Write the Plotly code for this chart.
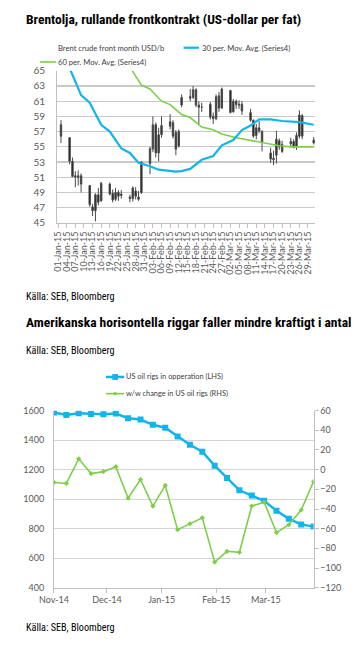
import plotly.graph_objects as go

W, H = 356, 646
def px(x): return x / W
def py(y): return 1 - y / H

# ---------------- Chart 1 data: Brent front month OHLC ----------------
brent_dates = ["2015-01-02","2015-01-05","2015-01-06","2015-01-07","2015-01-08","2015-01-09",
               "2015-01-12","2015-01-13","2015-01-14","2015-01-15","2015-01-16",
               "2015-01-19","2015-01-20","2015-01-21","2015-01-22","2015-01-23",
               "2015-01-26","2015-01-27","2015-01-28","2015-01-29","2015-01-30",
               "2015-02-02","2015-02-03","2015-02-04","2015-02-05","2015-02-06",
               "2015-02-09","2015-02-10","2015-02-11","2015-02-12","2015-02-13",
               "2015-02-16","2015-02-17","2015-02-18","2015-02-19","2015-02-20",
               "2015-02-23","2015-02-24","2015-02-25","2015-02-26","2015-02-27",
               "2015-03-02","2015-03-03","2015-03-04","2015-03-05","2015-03-06",
               "2015-03-09","2015-03-10","2015-03-11","2015-03-12","2015-03-13",
               "2015-03-16","2015-03-17","2015-03-18","2015-03-19","2015-03-20",
               "2015-03-23","2015-03-24","2015-03-25","2015-03-26","2015-03-27",
               "2015-03-31"]
brent_open  = [57.9,56.2,53.1,51.0,51.2,51.2, 49.9,47.1,46.6,48.7,47.9, 50.1,48.9,48.1,49.0,48.6,
               48.4,48.2,49.2,48.4,49.0, 52.8,54.7,57.9,54.2,56.6, 57.7,58.2,56.9,55.1,60.5,
               61.6,61.5,62.5,60.5,60.2, 60.6,59.0,58.7,61.7,60.1, 62.4,59.6,61.0,60.6,60.6,
               59.5,58.5,56.5,57.5,57.0, 54.2,53.3,53.9,55.8,54.4, 55.4,55.7,55.1,56.4,59.1, 55.9]
brent_high  = [58.5,56.3,53.6,51.8,51.9,51.5, 50.0,47.5,48.9,49.6,50.4, 50.3,49.4,49.6,49.3,49.3,
               48.7,49.8,49.7,49.2,53.1, 55.0,59.0,58.2,57.5,59.0, 59.3,58.5,57.2,57.3,61.9,
               62.6,63.0,62.7,61.0,60.8, 60.9,59.5,61.9,62.2,62.8, 62.5,61.3,61.2,61.1,61.0,
               60.0,58.6,58.0,58.4,57.2, 54.9,54.5,57.1,56.1,55.8, 56.2,56.0,56.9,59.8,59.3, 56.3]
brent_low   = [55.5,52.7,51.0,49.7,49.9,49.0, 47.1,45.9,45.2,47.3,47.8, 48.6,47.7,47.9,47.9,48.2,
               47.7,47.8,48.1,47.9,48.8, 51.4,54.3,53.6,53.1,56.2, 57.3,56.1,53.9,54.9,60.2,
               61.0,61.3,60.2,58.0,59.6, 58.6,58.0,58.5,59.6,60.0, 59.4,59.5,60.0,60.0,59.2,
               58.3,56.2,56.0,56.8,54.4, 52.9,52.6,52.8,54.6,54.2, 54.9,54.8,54.6,56.1,56.0, 55.3]
brent_close = [56.4,53.1,51.1,51.2,51.0,50.1, 47.4,46.6,48.7,47.7,50.2, 48.8,48.0,49.0,48.5,48.8,
               48.2,49.6,48.5,48.1,53.0, 54.75,57.9,54.2,56.6,57.8, 58.3,56.4,54.7,57.0,61.5,
               61.4,62.5,60.5,60.2,60.2, 58.9,58.7,61.6,60.1,62.6, 59.5,61.0,60.55,60.5,59.7,
               58.5,56.4,57.5,57.1,55.6, 53.4,53.5,56.0,55.0,55.3, 55.7,54.9,56.5,59.2,56.4, 55.5]

ma30_dates = ["2015-01-02","2015-01-05","2015-01-09","2015-01-12","2015-01-15","2015-01-16",
              "2015-01-19","2015-01-23","2015-01-26","2015-01-29","2015-02-02","2015-02-05",
              "2015-02-11","2015-02-13","2015-02-16","2015-02-20","2015-02-24","2015-02-27",
              "2015-03-03","2015-03-06","2015-03-09","2015-03-12","2015-03-16","2015-03-20",
              "2015-03-26","2015-03-31"]
ma30_vals  = [68.0,65.4,61.8,60.8,58.5,57.9, 57.0,54.8,54.2,52.9,52.45,52.0,
              51.75,51.8,52.1,53.3,53.8,55.2, 55.9,57.2,57.8,58.6,58.6,58.4, 58.25,57.9]

ma60_dates = ["2015-01-23","2015-01-26","2015-01-30","2015-02-02","2015-02-06","2015-02-09",
              "2015-02-11","2015-02-13","2015-02-16","2015-02-20","2015-02-24","2015-02-27",
              "2015-03-04","2015-03-09","2015-03-16","2015-03-19","2015-03-23","2015-03-31"]
ma60_vals  = [67.5,65.5,63.1,62.6,61.0,60.55, 59.9,59.25,58.85,57.6,57.25,56.7,
              56.2,55.85,55.45,55.15,55.0,55.0]

x1_ticks = ["2015-01-%02d" % d for d in range(1, 32, 3)] + \
           ["2015-02-%02d" % d for d in range(3, 29, 3)] + \
           ["2015-03-%02d" % d for d in range(2, 30, 3)]
y1_ticks = [45, 47, 49, 51, 53, 55, 57, 59, 61, 63, 65]

# ---------------- Chart 2 data: US oil rigs ----------------
rig_dates = ["2014-11-01","2014-11-08","2014-11-15","2014-11-22","2014-11-29","2014-12-06",
             "2014-12-13","2014-12-20","2014-12-27","2015-01-03","2015-01-10","2015-01-17",
             "2015-01-24","2015-01-31","2015-02-07","2015-02-14","2015-02-21","2015-02-28",
             "2015-03-07","2015-03-14","2015-03-21","2015-03-28"]
rigs = [1587,1571,1582,1578,1575,1580,1549,1540,1504,1484,1424,1369,
        1322,1227,1144,1060,1024,989,922,867,829,814]
ww_change = [-13,-14,11,-4,-2,3,-29,-10,-37,-16,-61,-55,
             -49,-94,-83,-84,-37,-33,-64,-56,-41,-12]

BLUE = "#12B5EA"
GREEN = "#7DCF48"
GRID = "#C9C9C9"
AXIS = "#BFBFBF"
TICKC = "#595959"
TXT = "#404040"
F_CH = "Lato, Open Sans, sans-serif"
F_TT = "Roboto Condensed, Roboto, sans-serif"

fig = go.Figure()

fig.add_trace(go.Scatter(x=ma60_dates, y=ma60_vals, mode="lines",
                         line=dict(color=GREEN, width=1.6), xaxis="x", yaxis="y",
                         showlegend=False, hoverinfo="skip"))
fig.add_trace(go.Scatter(x=ma30_dates, y=ma30_vals, mode="lines",
                         line=dict(color=BLUE, width=2.2), xaxis="x", yaxis="y",
                         showlegend=False, hoverinfo="skip"))
fig.add_trace(go.Candlestick(x=brent_dates, open=brent_open, high=brent_high,
                             low=brent_low, close=brent_close, xaxis="x", yaxis="y",
                             increasing=dict(line=dict(color="#4a4a4a", width=1), fillcolor="#222222"),
                             decreasing=dict(line=dict(color="#4a4a4a", width=1), fillcolor="#111111"),
                             whiskerwidth=0, showlegend=False))

fig.add_trace(go.Scatter(x=rig_dates, y=rigs, mode="lines+markers",
                         line=dict(color=BLUE, width=2.5),
                         marker=dict(symbol="square", size=6, color=BLUE),
                         xaxis="x2", yaxis="y2", showlegend=False))
fig.add_trace(go.Scatter(x=rig_dates, y=ww_change, mode="lines+markers",
                         line=dict(color=GREEN, width=1.6),
                         marker=dict(symbol="diamond", size=4, color=GREEN),
                         xaxis="x2", yaxis="y3", showlegend=False))

fig.update_layout(
    width=W, height=H, margin=dict(l=0, r=0, t=0, b=0),
    paper_bgcolor="white", plot_bgcolor="white", showlegend=False,
    xaxis=dict(domain=[px(44), px(313)], anchor="y", type="date",
               range=["2014-12-31 16:00", "2015-03-31 09:00"],
               tickvals=x1_ticks, tickformat="%d-%b-%y", tickangle=-90,
               ticks="outside", ticklen=4, tickcolor=AXIS,
               showline=True, linecolor=AXIS, linewidth=1, showgrid=False,
               tickfont=dict(family=F_CH, size=9, color=TICKC),
               rangeslider=dict(visible=False)),
    yaxis=dict(domain=[py(221), py(66)], anchor="x", range=[45, 65],
               tickvals=y1_ticks, showgrid=True, gridcolor=GRID, gridwidth=1.2,
               showline=True, linecolor=AXIS, ticks="", zeroline=False,
               ticklabelstandoff=9,
               tickfont=dict(family=F_CH, size=10, color=TICKC)),
    xaxis2=dict(domain=[px(40.7), px(311.7)], anchor="y2", type="date",
                range=["2014-11-01", "2015-03-28"],
                tick0="2014-11-01", dtick="M1", tickformat="%b-%y",
                ticks="outside", ticklen=4, tickcolor=AXIS,
                showline=True, linecolor=AXIS, showgrid=False,
                tickfont=dict(family=F_CH, size=9, color=TICKC)),
    yaxis2=dict(domain=[py(592.7), py(412.3)], anchor="x2", range=[400, 1600],
                dtick=200, showgrid=True, gridcolor="#D4D4D4", gridwidth=1.2,
                showline=True, linecolor=AXIS, ticks="", zeroline=False,
                ticklabelstandoff=7,
                tickfont=dict(family=F_CH, size=9, color=TICKC)),
    yaxis3=dict(overlaying="y2", anchor="x2", side="right", range=[-120, 60],
                dtick=20, showgrid=False, zeroline=False,
                showline=True, linecolor=AXIS, ticks="outside", ticklen=4, tickcolor=AXIS,
                tickfont=dict(family=F_CH, size=9, color=TICKC)),
)

ann = []
def text(x, y, s, size, color, family, bold=False):
    ann.append(dict(xref="paper", yref="paper", x=px(x), y=py(y), xanchor="left",
                    yanchor="middle", showarrow=False, borderpad=0,
                    text=("<b>%s</b>" % s) if bold else s,
                    font=dict(size=size, color=color, family=family)))

text(10, 13, "Brentolja, rullande frontkontrakt (US-dollar per fat)", 13.5, "#000000", F_TT, True)
text(44, 42.5, "Brent crude front month USD/b", 7.6, TXT, F_CH)
text(194, 42.5, "30 per. Mov. Avg. (Series4)", 7.6, TXT, F_CH)
text(44, 57, "60 per. Mov. Avg. (Series4)", 7.6, TXT, F_CH)
text(10, 296, "Källa: SEB, Bloomberg", 10.2, "#000000", F_TT)
text(10, 322, "Amerikanska horisontella riggar faller mindre kraftigt i antal", 13.5, "#000000", F_TT, True)
text(10, 351, "Källa: SEB, Bloomberg", 10.2, "#000000", F_TT)
text(115, 378, "US oil rigs in opperation (LHS)", 7.4, TXT, F_CH)
text(115, 395, "w/w change in US oil rigs (RHS)", 7.4, TXT, F_CH)
text(10, 633, "Källa: SEB, Bloomberg", 10.2, "#000000", F_TT)
fig.update_layout(annotations=ann)

shapes = [
    dict(type="line", xref="paper", yref="paper", x0=px(176), x1=px(192), y0=py(42.5), y1=py(42.5),
         line=dict(color=BLUE, width=2.2)),
    dict(type="line", xref="paper", yref="paper", x0=px(26), x1=px(43), y0=py(57), y1=py(57),
         line=dict(color=GREEN, width=1.6)),
    dict(type="line", xref="paper", yref="paper", x0=px(95), x1=px(114), y0=py(378), y1=py(378),
         line=dict(color=BLUE, width=2.5)),
    dict(type="rect", xref="paper", yref="paper", x0=px(101.5), x1=px(107.5), y0=py(381), y1=py(375),
         line=dict(width=0), fillcolor=BLUE),
    dict(type="line", xref="paper", yref="paper", x0=px(95), x1=px(114), y0=py(395), y1=py(395),
         line=dict(color=GREEN, width=1.6)),
    dict(type="rect", xref="paper", yref="paper", x0=px(103), x1=px(106), y0=py(396.5), y1=py(393.5),
         line=dict(width=0), fillcolor=GREEN),
]
fig.update_layout(shapes=shapes)

fig.write_html("out.html", config={"displayModeBar": False, "staticPlot": True},
               post_script="document.body.style.margin='0';document.body.style.overflow='hidden';")
